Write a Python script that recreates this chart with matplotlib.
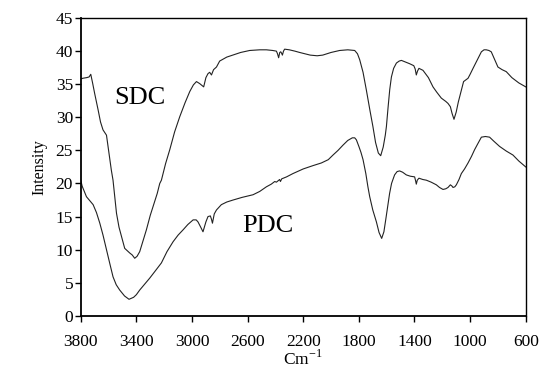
import matplotlib.pyplot as plt

plt.rcParams['font.family'] = ['Liberation Serif', 'DejaVu Serif']

# SDC spectrum (wavenumber, intensity)
sdc_wn = [3800, 3785, 3757, 3740, 3728, 3715, 3700, 3675, 3658, 3640, 3615, 3600,
          3591, 3580, 3568, 3543, 3525, 3507, 3484, 3448, 3430, 3412,
          3395, 3376, 3350, 3328, 3300, 3280, 3250, 3232, 3220, 3190, 3160, 3125,
          3088, 3050, 3016, 2990, 2968, 2945, 2916, 2900, 2885, 2873, 2860, 2845,
          2824, 2801, 2750, 2707, 2650, 2585, 2513, 2465, 2420, 2393, 2385, 2377,
          2369, 2362, 2356, 2350, 2342, 2334, 2300, 2260, 2226, 2150, 2100, 2060,
          2000, 1938, 1880, 1830, 1810, 1794, 1770, 1746, 1720, 1699, 1680, 1660,
          1643, 1625, 1610, 1602, 1590, 1578, 1566, 1550, 1530, 1510, 1494, 1470,
          1435, 1405, 1395, 1387, 1378, 1368, 1339, 1300, 1267, 1240, 1207, 1175,
          1159, 1142, 1130, 1116, 1100, 1085, 1075, 1047, 1015, 1000, 979, 950,
          919, 900, 884, 865, 848, 825, 800, 770, 740, 700, 650, 600]
sdc_int = [35.8, 35.9, 36.0, 36.1, 36.5, 35.2, 33.6, 31.1, 29.3, 28.1, 27.3, 25.0,
           23.6, 22.0, 20.5, 15.5, 13.4, 12.0, 10.2, 9.5, 9.2, 8.7,
           9.0, 9.7, 11.5, 13.0, 15.2, 16.5, 18.5, 20.0, 20.5, 23.0, 25.1, 27.8,
           30.1, 32.2, 33.9, 34.9, 35.4, 35.1, 34.6, 36.0, 36.6, 36.8, 36.4, 37.2,
           37.6, 38.5, 39.1, 39.4, 39.8, 40.1, 40.2, 40.2, 40.1, 40.0, 39.6, 39.0,
           39.8, 39.9, 39.7, 39.4, 40.0, 40.3, 40.2, 40.0, 39.8, 39.4, 39.3, 39.4,
           39.8, 40.1, 40.2, 40.1, 39.6, 38.7, 36.8, 34.1, 31.0, 28.6, 26.2, 24.6,
           24.2, 25.5, 27.3, 28.6, 31.5, 34.2, 36.1, 37.4, 38.2, 38.5, 38.6, 38.4,
           38.1, 37.8, 37.3, 36.4, 37.0, 37.4, 37.1, 36.0, 34.6, 33.8, 32.9, 32.4,
           32.1, 31.6, 30.6, 29.7, 30.8, 32.3, 33.1, 35.4, 35.9, 36.5, 37.4, 38.6,
           39.9, 40.2, 40.2, 40.1, 39.9, 38.8, 37.6, 37.2, 36.9, 36.0, 35.2, 34.6]

# PDC spectrum
pdc_wn = [3800, 3790, 3759, 3735, 3711, 3687, 3663, 3640, 3615, 3590, 3568, 3545,
          3520, 3485, 3453, 3420, 3400, 3376, 3340, 3304, 3260, 3220, 3180, 3136,
          3100, 3064, 3030, 2992, 2970, 2957, 2935, 2921, 2900, 2885,
          2868, 2860, 2853, 2840, 2824, 2789, 2750, 2705, 2640, 2561, 2513, 2465,
          2430, 2405, 2393, 2370, 2364, 2355, 2320, 2274, 2200, 2130, 2070, 2020,
          1986, 1950, 1914, 1880, 1847, 1830, 1818, 1800, 1785, 1770, 1750, 1735,
          1722, 1700, 1674, 1655, 1636, 1620, 1607, 1593, 1579, 1565, 1555, 1543,
          1525, 1507, 1485, 1459, 1430, 1399, 1392, 1387, 1380, 1368, 1340, 1315,
          1280, 1243, 1220, 1195, 1175, 1159, 1142, 1130, 1123, 1110, 1099, 1080,
          1063, 1040, 1015, 990, 968, 945, 919, 890, 860, 830, 788, 740, 692, 650, 600]
pdc_int = [20.5, 19.6, 18.0, 17.4, 16.8, 15.6, 14.0, 12.2, 10.0, 7.8, 5.9, 4.7,
           3.9, 3.0, 2.5, 2.8, 3.2, 3.9, 4.8, 5.7, 6.9, 8.0, 9.7, 11.2,
           12.2, 13.0, 13.8, 14.5, 14.5, 14.2, 13.3, 12.7, 14.2, 15.0,
           15.1, 14.6, 14.0, 15.4, 16.0, 16.8, 17.2, 17.5, 17.9, 18.3, 18.8, 19.5,
           19.9, 20.3, 20.2, 20.6, 20.3, 20.7, 21.0, 21.5, 22.2, 22.7, 23.1, 23.6,
           24.3, 25.0, 25.8, 26.5, 26.9, 26.9, 26.6, 25.6, 24.7, 23.6, 21.5, 19.5,
           18.0, 16.0, 14.2, 12.6, 11.7, 12.7, 14.5, 16.5, 18.5, 20.0, 20.6, 21.3,
           21.8, 21.9, 21.7, 21.3, 21.1, 21.0, 20.4, 19.9, 20.5, 20.8, 20.6, 20.5,
           20.2, 19.8, 19.4, 19.1, 19.2, 19.4, 19.8, 19.6, 19.4, 19.5, 19.8, 20.6,
           21.5, 22.2, 23.1, 24.1, 25.1, 26.0, 27.0, 27.1, 27.0, 26.4, 25.6, 24.9, 24.3, 23.4, 22.5]

x_ticks = [3800, 3400, 3000, 2600, 2200, 1800, 1400, 1000, 600]
y_ticks = [0, 5, 10, 15, 20, 25, 30, 35, 40, 45]

fig, ax = plt.subplots(figsize=(5.42, 3.76), dpi=100)
fig.subplots_adjust(left=0.149, right=0.970, top=0.952, bottom=0.160)

ax.plot(sdc_wn, sdc_int, color='#222222', lw=0.8)
ax.plot(pdc_wn, pdc_int, color='#222222', lw=0.8)

ax.set_xlim(3800, 600)
ax.set_ylim(0, 45)
ax.set_xticks(x_ticks)
ax.set_yticks(y_ticks)
ax.tick_params(axis='both', direction='out', length=4.5, width=1, labelsize=12.5, colors='black')
ax.tick_params(axis='x', pad=8.5)
ax.tick_params(axis='y', pad=1)

for side in ['left', 'bottom']:
    ax.spines[side].set_linewidth(1.3)
for side in ['top', 'right']:
    ax.spines[side].set_linewidth(1.0)

ax.text(3376, 32.9, 'SDC', fontsize=19, ha='center', va='center')
ax.text(2458, 13.6, 'PDC', fontsize=19, ha='center', va='center')

ax.set_ylabel('Intensity', fontsize=11.5, labelpad=6)
ax.set_xlabel('Cm$^{\\mathregular{-1}}$', fontsize=12.5, labelpad=0)

fig.savefig('out.png', dpi=100)
